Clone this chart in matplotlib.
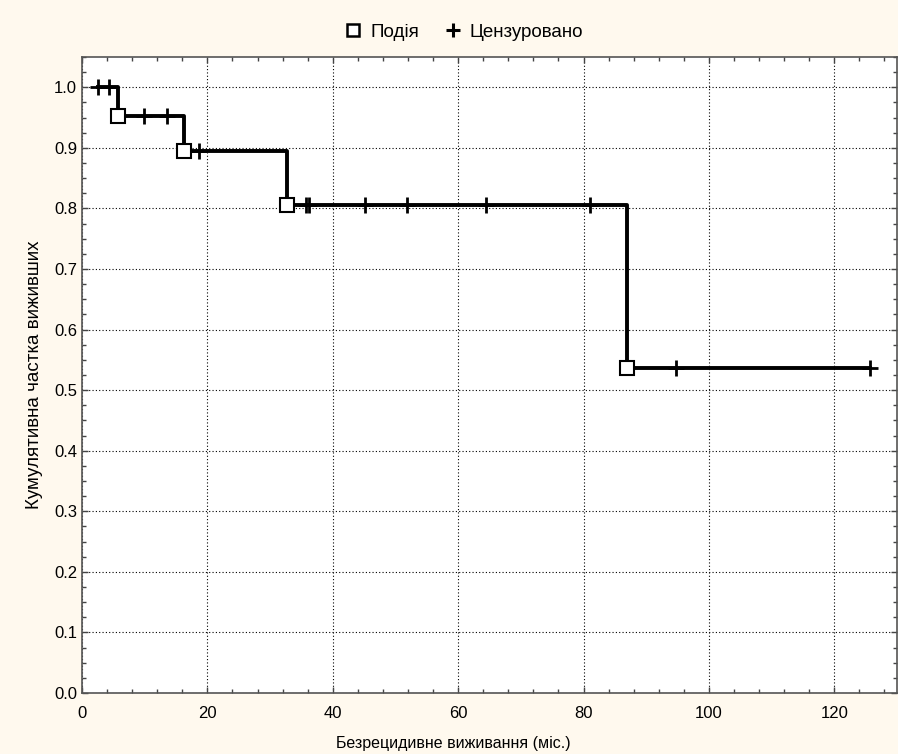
import matplotlib.pyplot as plt
from matplotlib.ticker import MultipleLocator
from matplotlib.lines import Line2D

plt.rcParams["font.family"] = ["Liberation Sans", "DejaVu Sans"]

# step curve (Kaplan-Meier estimate)
step_times = [2.5, 5.7, 16.2, 32.7, 87.0, 125.7]
step_surv = [1.0, 0.952, 0.895, 0.805, 0.537, 0.537]

# events (squares)
event_times = [5.7, 16.2, 32.7, 87.0]
event_surv = [0.952, 0.895, 0.805, 0.537]

# censored observations (plus marks)
cens_times = [2.5, 4.3, 9.9, 13.6, 18.6, 35.7, 36.2, 45.1, 51.9, 64.5, 81.0, 94.8, 125.7]
cens_surv = [1.0, 1.0, 0.952, 0.952, 0.895, 0.805, 0.805, 0.805, 0.805, 0.805, 0.805, 0.537, 0.537]

fig = plt.figure(figsize=(8.98, 7.54), dpi=100, facecolor="#fff9ee")
ax = fig.add_axes([0.0913, 0.0809, 0.9076, 0.8435])
ax.set_facecolor("white")

ax.step(step_times, step_surv, where="post", color="black", lw=2.8, zorder=3)
ax.plot(cens_times, cens_surv, ls="none", marker="+", ms=11.5, mew=2.0,
        color="black", zorder=4)
ax.plot(event_times, event_surv, ls="none", marker="s", ms=9.5, mew=1.5,
        mfc="white", mec="black", zorder=5)

ax.set_xlim(0, 130)
ax.set_ylim(0, 1.05)
ax.xaxis.set_major_locator(MultipleLocator(20))
ax.xaxis.set_minor_locator(MultipleLocator(4))
ax.yaxis.set_major_locator(MultipleLocator(0.1))
ax.yaxis.set_minor_locator(MultipleLocator(0.025))
ax.yaxis.set_major_formatter(plt.FuncFormatter(lambda v, p: f"{v:.1f}"))

ax.tick_params(which="both", direction="in", top=True, right=True,
               color="#444444", labelsize=12)
ax.tick_params(which="major", length=4, width=1)
ax.tick_params(which="minor", length=3, width=1)
ax.tick_params(axis="x", pad=9)

ax.grid(True, which="major", ls=(0, (1, 2)), color="black", lw=0.8)
for s in ax.spines.values():
    s.set_color("#555555")
    s.set_linewidth(1.2)

ax.set_xlabel("Безрецидивне виживання (міс.)", fontsize=11.5, va="center")
ax.xaxis.set_label_coords(0.455, -0.080)
ax.set_ylabel("Кумулятивна частка виживших", fontsize=13.5, labelpad=8)

handles = [
    Line2D([], [], ls="none", marker="s", ms=8, mew=1.8, mfc="white", mec="black"),
    Line2D([], [], ls="none", marker="+", ms=10, mew=2.2, color="black"),
]
fig.legend(handles, ["Подія", "Цензуровано"], loc="center",
           bbox_to_anchor=(0.515, 0.957), ncol=2, frameon=False,
           fontsize=13.5, handletextpad=0.3, columnspacing=1.2, handlelength=1.2)

fig.savefig("out.png", dpi=100, facecolor=fig.get_facecolor())
